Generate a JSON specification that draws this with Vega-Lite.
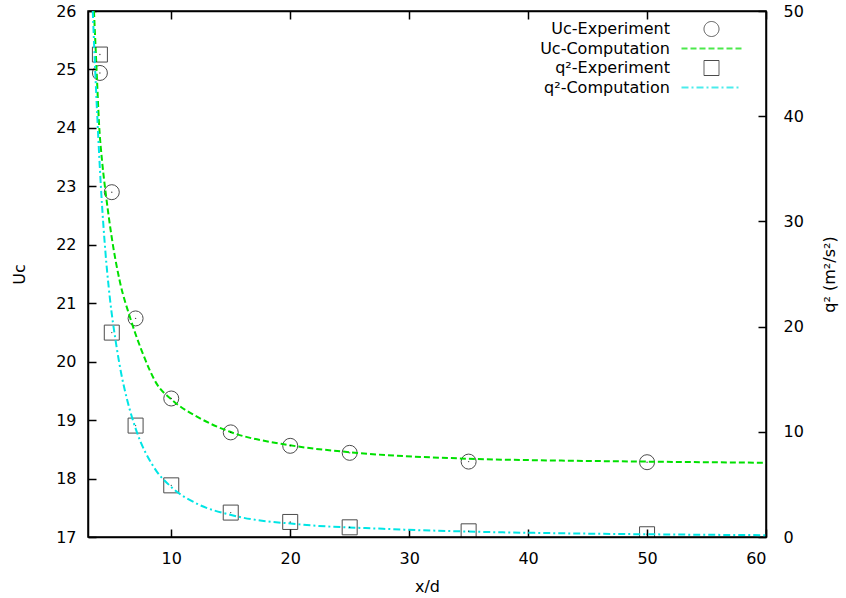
{
  "$schema": "https://vega.github.io/schema/vega-lite/v6.json",
  "autosize": "none",
  "width": 678,
  "height": 526,
  "padding": {"left": 88, "top": 11, "right": 80, "bottom": 61},
  "config": {
    "font": "DejaVu Sans",
    "view": {"stroke": "black", "strokeWidth": 1.5},
    "axis": {
      "labelFont": "DejaVu Sans", "labelFontSize": 16, "labelColor": "black",
      "titleFont": "DejaVu Sans", "titleFontSize": 16, "titleFontWeight": "normal", "titleColor": "black",
      "domainColor": "black", "domainWidth": 1.5, "grid": false
    },
    "legend": {
      "labelFont": "DejaVu Sans", "labelFontSize": 16, "labelColor": "black"
    }
  },
  "datasets": {
    "uc_exp": [
      {"series": "Uc-Experiment", "x": 4, "v": 24.94},
      {"series": "Uc-Experiment", "x": 5, "v": 22.90},
      {"series": "Uc-Experiment", "x": 7, "v": 20.74},
      {"series": "Uc-Experiment", "x": 10, "v": 19.37},
      {"series": "Uc-Experiment", "x": 15, "v": 18.79},
      {"series": "Uc-Experiment", "x": 20, "v": 18.56},
      {"series": "Uc-Experiment", "x": 25, "v": 18.44},
      {"series": "Uc-Experiment", "x": 35, "v": 18.29},
      {"series": "Uc-Experiment", "x": 50, "v": 18.28}
    ],
    "uc_comp": [
      {"series": "Uc-Computation", "x": 3.50, "v": 26.0},
      {"series": "Uc-Computation", "x": 3.72, "v": 25.0},
      {"series": "Uc-Computation", "x": 3.92, "v": 24.1},
      {"series": "Uc-Computation", "x": 4.20, "v": 23.4},
      {"series": "Uc-Computation", "x": 4.51, "v": 22.85},
      {"series": "Uc-Computation", "x": 5.10, "v": 21.99},
      {"series": "Uc-Computation", "x": 5.69, "v": 21.36},
      {"series": "Uc-Computation", "x": 6.53, "v": 20.76},
      {"series": "Uc-Computation", "x": 7.51, "v": 20.19},
      {"series": "Uc-Computation", "x": 8.78, "v": 19.62},
      {"series": "Uc-Computation", "x": 10.04, "v": 19.35},
      {"series": "Uc-Computation", "x": 12.42, "v": 19.03},
      {"series": "Uc-Computation", "x": 14.94, "v": 18.80},
      {"series": "Uc-Computation", "x": 19.98, "v": 18.57},
      {"series": "Uc-Computation", "x": 25.03, "v": 18.45},
      {"series": "Uc-Computation", "x": 34.84, "v": 18.34},
      {"series": "Uc-Computation", "x": 41.84, "v": 18.31},
      {"series": "Uc-Computation", "x": 50, "v": 18.29},
      {"series": "Uc-Computation", "x": 60, "v": 18.27}
    ],
    "q2_exp": [
      {"series": "q²-Experiment", "x": 4, "v": 45.86},
      {"series": "q²-Experiment", "x": 5, "v": 19.43},
      {"series": "q²-Experiment", "x": 7, "v": 10.59},
      {"series": "q²-Experiment", "x": 10, "v": 4.91},
      {"series": "q²-Experiment", "x": 15, "v": 2.32},
      {"series": "q²-Experiment", "x": 20, "v": 1.43},
      {"series": "q²-Experiment", "x": 25, "v": 0.92},
      {"series": "q²-Experiment", "x": 35, "v": 0.54},
      {"series": "q²-Experiment", "x": 50, "v": 0.26}
    ],
    "q2_comp": [
      {"series": "q²-Computation", "x": 3.40, "v": 50.0},
      {"series": "q²-Computation", "x": 3.60, "v": 44.5},
      {"series": "q²-Computation", "x": 3.80, "v": 39.5},
      {"series": "q²-Computation", "x": 4.10, "v": 33.0},
      {"series": "q²-Computation", "x": 4.45, "v": 27.3},
      {"series": "q²-Computation", "x": 4.85, "v": 22.6},
      {"series": "q²-Computation", "x": 5.33, "v": 18.6},
      {"series": "q²-Computation", "x": 5.80, "v": 15.5},
      {"series": "q²-Computation", "x": 6.30, "v": 13.0},
      {"series": "q²-Computation", "x": 7.10, "v": 10.0},
      {"series": "q²-Computation", "x": 8.50, "v": 6.7},
      {"series": "q²-Computation", "x": 10.0, "v": 4.75},
      {"series": "q²-Computation", "x": 12.1, "v": 3.2},
      {"series": "q²-Computation", "x": 15.2, "v": 2.05},
      {"series": "q²-Computation", "x": 20.8, "v": 1.2},
      {"series": "q²-Computation", "x": 27.8, "v": 0.78},
      {"series": "q²-Computation", "x": 34.8, "v": 0.52},
      {"series": "q²-Computation", "x": 41.8, "v": 0.37},
      {"series": "q²-Computation", "x": 50, "v": 0.26},
      {"series": "q²-Computation", "x": 60, "v": 0.17}
    ]
  },
  "resolve": {"scale": {"y": "independent"}, "axis": {"x": "independent"}},
  "layer": [
    {
      "encoding": {
        "x": {"field": "x", "type": "quantitative", "scale": {"domain": [3, 60], "nice": false, "zero": false},
              "axis": {"orient": "bottom", "values": [10, 20, 30, 40, 50, 60], "title": "x/d", "ticks": false, "labelPadding": 13, "titlePadding": 12}},
        "y": {"field": "v", "type": "quantitative", "scale": {"domain": [17, 26], "nice": false, "zero": false},
              "axis": {"orient": "left", "values": [17, 18, 19, 20, 21, 22, 23, 24, 25, 26], "title": "Uc", "ticks": false, "labelPadding": 12, "titlePadding": 28}}
      },
      "layer": [
        {
          "data": {"name": "uc_exp"},
          "mark": {"type": "point", "filled": false, "clip": true},
          "encoding": {
            "color": {"field": "series", "type": "nominal",
              "scale": {"domain": ["Uc-Experiment", "Uc-Computation", "q²-Experiment", "q²-Computation"], "range": ["black", "#00e000", "black", "#00e5e5"]},
              "legend": {"title": null, "orient": "none", "legendX": 615, "legendY": 10, "padding": 0, "labelAlign": "right", "labelOffset": -50, "rowPadding": 1, "symbolSize": 225}},
            "shape": {"field": "series", "type": "nominal",
              "scale": {"domain": ["Uc-Experiment", "Uc-Computation", "q²-Experiment", "q²-Computation"], "range": ["circle", "M-4,0L4,0", "square", "M-4,0L4,0"]}},
            "strokeWidth": {"field": "series", "type": "nominal",
              "scale": {"type": "ordinal", "domain": ["Uc-Experiment", "Uc-Computation", "q²-Experiment", "q²-Computation"], "range": [1, 2, 1, 2]}},
            "size": {"value": 225}
          }
        },
        {
          "data": {"name": "uc_comp"},
          "mark": {"type": "line", "interpolate": "monotone", "clip": true},
          "encoding": {
            "color": {"field": "series", "type": "nominal",
              "scale": {"domain": ["Uc-Experiment", "Uc-Computation", "q²-Experiment", "q²-Computation"], "range": ["black", "#00e000", "black", "#00e5e5"]}},
            "strokeDash": {"field": "series", "type": "nominal",
              "scale": {"domain": ["Uc-Experiment", "Uc-Computation", "q²-Experiment", "q²-Computation"], "range": [[1, 0], [6, 3], [1, 0], [7, 3, 2, 3]]}},
            "strokeWidth": {"field": "series", "type": "nominal",
              "scale": {"type": "ordinal", "domain": ["Uc-Experiment", "Uc-Computation", "q²-Experiment", "q²-Computation"], "range": [1, 2, 1, 2]}}
          }
        }
      ]
    },
    {
      "encoding": {
        "x": {"field": "x", "type": "quantitative", "scale": {"domain": [3, 60], "nice": false, "zero": false},
              "axis": {"orient": "top", "values": [10, 20, 30, 40, 50, 60], "title": null, "labels": false, "ticks": false}},
        "y": {"field": "v", "type": "quantitative", "scale": {"domain": [0, 50], "nice": false, "zero": false},
              "axis": {"orient": "right", "values": [0, 10, 20, 30, 40, 50], "title": "q² (m²/s²)", "titleAngle": 270, "ticks": false, "labelPadding": 17, "titlePadding": 34}}
      },
      "layer": [
        {
          "data": {"name": "q2_exp"},
          "mark": {"type": "point", "filled": false, "clip": true},
          "encoding": {
            "color": {"field": "series", "type": "nominal",
              "scale": {"domain": ["Uc-Experiment", "Uc-Computation", "q²-Experiment", "q²-Computation"], "range": ["black", "#00e000", "black", "#00e5e5"]}},
            "shape": {"field": "series", "type": "nominal",
              "scale": {"domain": ["Uc-Experiment", "Uc-Computation", "q²-Experiment", "q²-Computation"], "range": ["circle", "M-4,0L4,0", "square", "M-4,0L4,0"]}},
            "strokeWidth": {"field": "series", "type": "nominal",
              "scale": {"type": "ordinal", "domain": ["Uc-Experiment", "Uc-Computation", "q²-Experiment", "q²-Computation"], "range": [1, 2, 1, 2]}},
            "size": {"value": 225}
          }
        },
        {
          "data": {"name": "q2_comp"},
          "mark": {"type": "line", "interpolate": "monotone", "clip": true},
          "encoding": {
            "color": {"field": "series", "type": "nominal",
              "scale": {"domain": ["Uc-Experiment", "Uc-Computation", "q²-Experiment", "q²-Computation"], "range": ["black", "#00e000", "black", "#00e5e5"]}},
            "strokeDash": {"field": "series", "type": "nominal",
              "scale": {"domain": ["Uc-Experiment", "Uc-Computation", "q²-Experiment", "q²-Computation"], "range": [[1, 0], [6, 3], [1, 0], [7, 3, 2, 3]]}},
            "strokeWidth": {"field": "series", "type": "nominal",
              "scale": {"type": "ordinal", "domain": ["Uc-Experiment", "Uc-Computation", "q²-Experiment", "q²-Computation"], "range": [1, 2, 1, 2]}}
          }
        }
      ]
    },
    {
      "data": {"name": "uc_exp"},
      "mark": {"type": "point", "filled": true, "color": "black", "size": 2, "clip": true},
      "encoding": {
        "x": {"field": "x", "type": "quantitative", "scale": {"domain": [3, 60], "nice": false, "zero": false},
              "axis": {"orient": "bottom", "offset": -8, "values": [10, 20, 30, 40, 50, 60], "title": null, "labels": false, "domain": false, "ticks": true, "tickSize": 8, "tickWidth": 1.5, "tickColor": "black", "tickOpacity": 1}},
        "y": {"field": "v", "type": "quantitative", "scale": {"domain": [17, 26], "nice": false, "zero": false},
              "axis": {"orient": "left", "offset": -8, "values": [17, 18, 19, 20, 21, 22, 23, 24, 25, 26], "title": null, "labels": false, "domain": false, "ticks": true, "tickSize": 8, "tickWidth": 1.5, "tickColor": "black", "tickOpacity": 1}}
      }
    },
    {
      "data": {"name": "q2_exp"},
      "mark": {"type": "point", "filled": true, "color": "black", "size": 2, "clip": true},
      "encoding": {
        "x": {"field": "x", "type": "quantitative", "scale": {"domain": [3, 60], "nice": false, "zero": false},
              "axis": {"orient": "top", "offset": -8, "values": [10, 20, 30, 40, 50, 60], "title": null, "labels": false, "domain": false, "ticks": true, "tickSize": 8, "tickWidth": 1.5, "tickColor": "black", "tickOpacity": 1}},
        "y": {"field": "v", "type": "quantitative", "scale": {"domain": [0, 50], "nice": false, "zero": false},
              "axis": {"orient": "right", "offset": -8, "values": [0, 10, 20, 30, 40, 50], "title": null, "labels": false, "domain": false, "ticks": true, "tickSize": 8, "tickWidth": 1.5, "tickColor": "black", "tickOpacity": 1}}
      }
    }
  ]
}
